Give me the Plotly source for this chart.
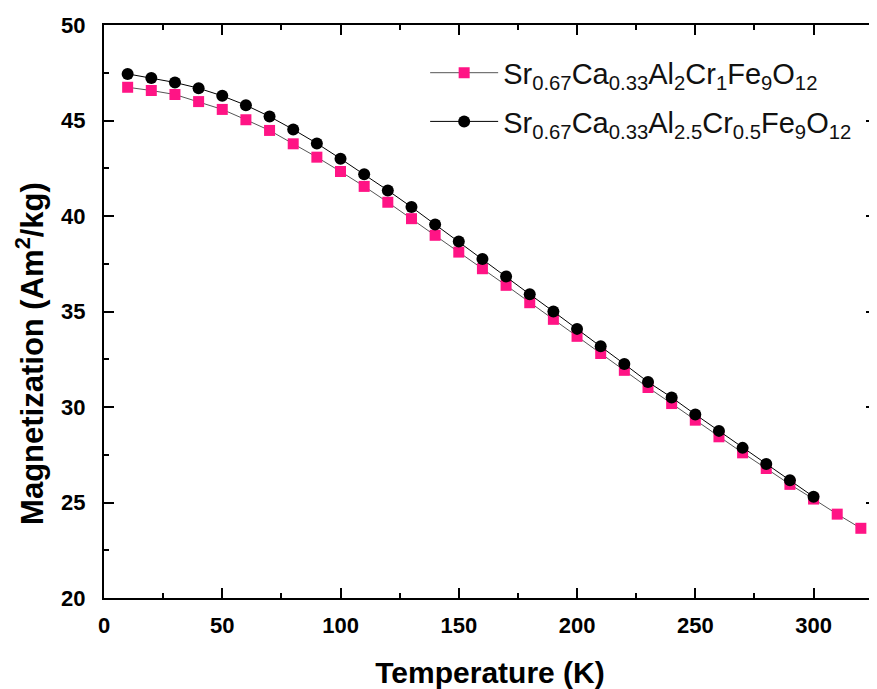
import plotly.graph_objects as go

temp_a = [10, 20, 30, 40, 50, 60, 70, 80, 90, 100, 110, 120, 130, 140, 150, 160,
          170, 180, 190, 200, 210, 220, 230, 240, 250, 260, 270, 280, 290, 300, 310, 320]
mag_a = [46.74, 46.57, 46.36, 45.99, 45.58, 45.04, 44.48, 43.78, 43.08, 42.33, 41.55, 40.72,
         39.86, 38.99, 38.11, 37.24, 36.37, 35.46, 34.59, 33.70, 32.80, 31.92, 31.02, 30.18,
         29.31, 28.44, 27.60, 26.78, 25.95, 25.18, 24.39, 23.65]

temp_b = [10, 20, 30, 40, 50, 60, 70, 80, 90, 100, 110, 120, 130, 140, 150, 160,
          170, 180, 190, 200, 210, 220, 230, 240, 250, 260, 270, 280, 290, 300]
mag_b = [47.44, 47.23, 46.99, 46.69, 46.29, 45.80, 45.21, 44.53, 43.80, 43.00, 42.19, 41.34,
         40.47, 39.55, 38.66, 37.75, 36.83, 35.90, 35.00, 34.09, 33.18, 32.25, 31.31, 30.50,
         29.61, 28.75, 27.86, 27.01, 26.17, 25.30]

name_a = "Sr<sub>0.67</sub>Ca<sub>0.33</sub>Al<sub>2</sub>Cr<sub>1</sub>Fe<sub>9</sub>O<sub>12</sub>"
name_b = "Sr<sub>0.67</sub>Ca<sub>0.33</sub>Al<sub>2.5</sub>Cr<sub>0.5</sub>Fe<sub>9</sub>O<sub>12</sub>"

x_title = "<b>Temperature (K)</b>"
y_title = "<b>Magnetization (Am<sup>2</sup>/kg)</b>"

FONT = "Liberation Sans, Arial"

fig = go.Figure()
fig.add_trace(go.Scatter(
    x=temp_a, y=mag_a, mode="lines+markers", name=name_a, legendgroup="a",
    line=dict(color="#555555", width=1),
    marker=dict(symbol="square", size=11, color="#FF1485",
                line=dict(color="#FF1485", width=0)),
))
fig.add_trace(go.Scatter(
    x=temp_b, y=mag_b, mode="lines+markers", name=name_b, legendgroup="b",
    line=dict(color="#000000", width=1),
    marker=dict(symbol="circle", size=12, color="#000000"),
))

axis_common = dict(
    showline=True, linecolor="black", linewidth=2, mirror="allticks",
    ticks="inside", ticklen=10, tickwidth=2, tickcolor="black",
    showgrid=False, zeroline=False, automargin=False,
    tickfont=dict(family=FONT, size=22, color="black", weight="bold"),
)

fig.update_xaxes(
    range=[0, 326.4], dtick=50, tick0=0,
    minor=dict(dtick=25, ticks="inside", ticklen=5, tickwidth=2, tickcolor="black"),
    title=dict(text=x_title, standoff=26,
               font=dict(family=FONT, size=30, color="black")),
    ticklabelstandoff=7,
    **axis_common,
)
fig.update_yaxes(
    range=[20, 50], dtick=5, tick0=20,
    minor=dict(dtick=2.5, ticks="inside", ticklen=5, tickwidth=2, tickcolor="black"),
    ticklabelstandoff=12,
    **axis_common,
)

# y-axis title placed as a rotated text (it sits below the axis middle in the reference)
fig.add_annotation(
    text=y_title, textangle=-90, showarrow=False,
    xref="paper", yref="paper", x=-0.0951, y=0.427,
    xanchor="center", yanchor="middle",
    font=dict(family=FONT, size=31, color="black"),
)

# the page body adds an 8 px margin, so the figure is 8 px smaller than the window
fig.update_layout(
    width=869, height=681,
    margin=dict(l=95.5, r=1, t=16.5, b=91),
    paper_bgcolor="white", plot_bgcolor="white",
    showlegend=True,
    legend=dict(
        x=0.416, y=0.961, xanchor="left", yanchor="top",
        bgcolor="rgba(0,0,0,0)", borderwidth=0,
        font=dict(family=FONT, size=29, color="#111111"),
        itemwidth=68, tracegroupgap=8,
    ),
)

fig.write_html("out.html")
